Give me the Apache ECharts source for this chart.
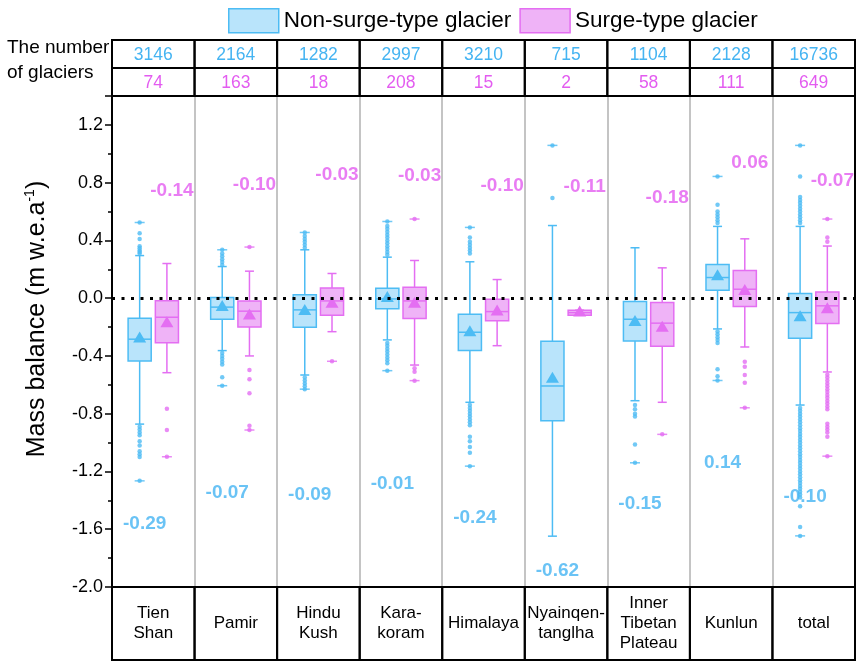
<!DOCTYPE html>
<html>
<head>
<meta charset="utf-8">
<script src="https://cdn.jsdelivr.net/npm/echarts@6/dist/echarts.min.js"></script>
<style>
  html, body { margin: 0; padding: 0; background: #fff; }
  #chart { width: 858px; height: 663px; }
</style>
</head>
<body>
<div id="chart"></div>
<script>
const regions = ["Tien\nShan", "Pamir", "Hindu\nKush", "Kara-\nkoram", "Himalaya",
  "Nyainqen-\ntanglha", "Inner\nTibetan\nPlateau", "Kunlun", "total"];
const nonSurgeCount = [3146, 2164, 1282, 2997, 3210, 715, 1104, 2128, 16736];
const surgeCount = [74, 163, 18, 208, 15, 2, 58, 111, 649];

// [lower whisker, Q1, median, Q3, upper whisker]
const nonSurgeBox = [
  [-0.872, -0.435, -0.284, -0.139, 0.295],
  [-0.363, -0.146, -0.062, 0.004, 0.219],
  [-0.532, -0.201, -0.081, 0.023, 0.335],
  [-0.289, -0.074, -0.005, 0.069, 0.284],
  [-0.721, -0.363, -0.236, -0.111, 0.252],
  [-1.648, -0.849, -0.608, -0.298, 0.503],
  [-0.710, -0.296, -0.146, -0.023, 0.349],
  [-0.213, 0.055, 0.143, 0.233, 0.497],
  [-0.740, -0.277, -0.100, 0.032, 0.497]
];
const surgeBox = [
  [-0.516, -0.308, -0.132, -0.017, 0.240],
  [-0.400, -0.199, -0.090, -0.019, 0.187],
  [-0.232, -0.118, -0.019, 0.071, 0.171],
  [-0.463, -0.141, -0.019, 0.076, 0.261],
  [-0.329, -0.157, -0.093, -0.007, 0.129],
  [-0.118, -0.118, -0.100, -0.083, -0.083],
  [-0.721, -0.333, -0.173, -0.030, 0.210],
  [-0.338, -0.058, 0.062, 0.191, 0.411],
  [-0.511, -0.176, -0.053, 0.042, 0.361]
];
const nonSurgeMean = [-0.275, -0.058, -0.086, 0.004, -0.232, -0.555, -0.162, 0.155, -0.128];
const surgeMean = [-0.170, -0.116, -0.035, -0.035, -0.088, -0.095, -0.201, 0.053, -0.074];

const nonSurgeOutliers = [
  [0.45, 0.41, 0.36, 0.345, 0.33, 0.32, 0.31, -0.89, -0.91, -0.93, -0.95, -0.99, -1.02, -1.06, -1.08, -1.10],
  [0.23, 0.25, 0.27, 0.29, 0.31, -0.38, -0.40, -0.42, -0.44, -0.46, -0.548],
  [0.35, 0.37, 0.39, 0.41, 0.43, -0.55, -0.57, -0.59, -0.61],
  [0.30, 0.32, 0.34, 0.36, 0.38, 0.40, 0.42, 0.44, 0.46, 0.48, 0.50,
   -0.31, -0.33, -0.35, -0.37, -0.39, -0.41, -0.43, -0.45],
  [0.31, 0.33, 0.35, 0.37, 0.39, 0.42, -0.74, -0.76, -0.78, -0.80, -0.82, -0.84, -0.86, -0.88,
   -0.96, -0.99, -1.03, -1.07],
  [0.693],
  [-0.74, -0.77, -0.80, -0.82, -1.013],
  [0.647, 0.60, 0.58, 0.56, 0.54, 0.52, -0.23, -0.25, -0.27, -0.29, -0.31, -0.492, -0.54],
  [0.843, 0.70, 0.68, 0.66, 0.64, 0.62, 0.60, 0.58, 0.56, 0.54, 0.52,
   -0.76, -0.78, -0.80, -0.82, -0.84, -0.86, -0.88, -0.90, -0.92, -0.94, -0.96, -0.98,
   -1.00, -1.02, -1.04, -1.06, -1.08, -1.10, -1.12, -1.14, -1.16, -1.18, -1.20, -1.22,
   -1.24, -1.26, -1.28, -1.30, -1.32, -1.34, -1.36, -1.38, -1.44, -1.584]
];
const surgeOutliers = [
  [-0.766, -0.913],
  [-0.497, -0.562, -0.659, -0.883],
  [],
  [-0.486, -0.509],
  [],
  [],
  [],
  [-0.44, -0.474, -0.532, -0.585],
  [0.42, 0.39, -0.53, -0.55, -0.57, -0.59, -0.61, -0.63, -0.65, -0.67, -0.69, -0.71,
   -0.73, -0.75, -0.77, -0.87, -0.89, -0.91, -0.93, -0.96]
];
// min / max values that lie beyond the whiskers
const nonSurgeExtremes = [
  [0.524, -1.265], [0.335, -0.606], [0.455, -0.63], [0.531, -0.502], [0.49, -1.163],
  [1.058], [-1.14], [0.843, -0.57], [1.058, -1.646]
];
const surgeExtremes = [
  [-1.098], [0.354, -0.913], [-0.437], [0.548, -0.571], [], [], [-0.943], [-0.759], [0.548, -1.094]
];

const nonSurgeMeanText = ["-0.29", "-0.07", "-0.09", "-0.01", "-0.24", "-0.62", "-0.15", "0.14", "-0.10"];
const surgeMeanText = ["-0.14", "-0.10", "-0.03", "-0.03", "-0.10", "-0.11", "-0.18", "0.06", "-0.07"];
const nonSurgeTextY = [-1.565, -1.345, -1.36, -1.283, -1.519, -1.891, -1.426, -1.14, -1.376];
const surgeTextY = [0.746, 0.786, 0.855, 0.848, 0.779, 0.77, 0.698, 0.936, 0.813];

const FONT = "Liberation Sans, Arial, sans-serif";
const BLUE = "#4dbcf4", BLUE_FILL = "#b9e4fb", BLUE_TEXT = "#45b4f2";
const PINK = "#e46ef2", PINK_FILL = "#efb3f7", PINK_TEXT = "#e35cf0";
const OFF = 0.165;   // box offset from category centre (axis units)
const BOX_W = 0.28;  // box width (axis units)

function boxRenderer(offset, stroke, fill) {
  return function (params, api) {
    var x = api.value(0) + 0.5 + offset;
    var left = api.coord([x - BOX_W / 2, 0])[0];
    var right = api.coord([x + BOX_W / 2, 0])[0];
    var cx = api.coord([x, 0])[0];
    var y = function (k) { return api.coord([x, api.value(k)])[1]; };
    var low = y(1), q1 = y(2), med = y(3), q3 = y(4), high = y(5), mean = y(6);
    var line = function (x1, y1, x2, y2) {
      return { type: "line", shape: { x1: x1, y1: y1, x2: x2, y2: y2 }, style: { stroke: stroke, lineWidth: 1.5 } };
    };
    return {
      type: "group",
      children: [
        line(cx, high, cx, q3),
        line(cx, q1, cx, low),
        line(cx - 4.5, high, cx + 4.5, high),
        line(cx - 4.5, low, cx + 4.5, low),
        { type: "rect", shape: { x: left, y: q3, width: right - left, height: q1 - q3 },
          style: { fill: fill, stroke: stroke, lineWidth: 1.5 } },
        line(left, med, right, med),
        { type: "polygon", shape: { points: [[cx, mean - 6.5], [cx - 6.5, mean + 4.5], [cx + 6.5, mean + 4.5]] },
          style: { fill: stroke } }
      ]
    };
  };
}

function points(list, offset) {
  var out = [];
  list.forEach(function (arr, i) {
    arr.forEach(function (v) { out.push([i + 0.5 + offset, v]); });
  });
  return out;
}

var chart = echarts.init(document.getElementById("chart"));

var option = {
  animation: false,
  backgroundColor: "#fff",
  textStyle: { fontFamily: FONT },
  legend: {
    left: 223, top: 3,
    itemWidth: 50, itemHeight: 24, itemGap: 8,
    icon: "rect",
    selectedMode: false,
    textStyle: { fontSize: 22.5, color: "#000", fontFamily: FONT },
    data: [
      { name: "Non-surge-type glacier", itemStyle: { color: BLUE_FILL, borderColor: BLUE, borderWidth: 1.5 } },
      { name: "Surge-type glacier", itemStyle: { color: PINK_FILL, borderColor: PINK, borderWidth: 1.5 } }
    ]
  },
  graphic: [
    { type: "text", left: 7, top: 35,
      style: { text: "The number\nof glaciers", font: "19px " + FONT, fill: "#000", lineHeight: 25 } },
    { type: "text", x: 37, y: 319, rotation: Math.PI / 2,
      style: {
        text: "Mass balance (m w.e.a{sup|-1})", font: "25px " + FONT, fill: "#000",
        align: "center", verticalAlign: "middle", lineHeight: 28,
        rich: { sup: { fontSize: 14, fontFamily: FONT, verticalAlign: "top", lineHeight: 28, padding: [0, 0, 8, 0] } }
      } }
  ],
  grid: [
    { left: 112, right: 3, top: 96, bottom: 76, show: true, borderColor: "#000", borderWidth: 2,
      backgroundColor: "transparent", outerBoundsMode: "none" },
    { left: 112, right: 3, top: 40, height: 56, outerBoundsMode: "none" },
    { left: 112, right: 3, top: 587, height: 73, outerBoundsMode: "none" }
  ],
  xAxis: [
    { type: "value", gridIndex: 0, min: 0, max: 9, interval: 1,
      axisLine: { show: false }, axisTick: { show: false }, axisLabel: { show: false },
      splitLine: { show: true, showMinLine: false, showMaxLine: false, lineStyle: { color: "#c4c4c4", width: 2 } } },
    { type: "value", gridIndex: 1, min: 0, max: 9, show: false },
    { type: "value", gridIndex: 2, min: 0, max: 9, show: false }
  ],
  yAxis: [
    { type: "value", gridIndex: 0, min: -2, max: 1.4, interval: 0.4,
      axisLine: { show: true, lineStyle: { color: "#000", width: 2 } },
      axisTick: { show: true, length: 7, lineStyle: { color: "#000", width: 1.5 } },
      minorTick: { show: true, splitNumber: 2, length: 4, lineStyle: { color: "#000", width: 1.5 } },
      splitLine: { show: false },
      axisLabel: { fontSize: 18, color: "#000", fontFamily: FONT, margin: 9,
        formatter: function (v) { return v > 1.3 ? "" : v.toFixed(1); } } },
    { type: "value", gridIndex: 1, min: 0, max: 2, show: false },
    { type: "value", gridIndex: 2, min: 0, max: 1, show: false }
  ],
  series: [
    {
      name: "Non-surge-type glacier", type: "custom", xAxisIndex: 0, yAxisIndex: 0, z: 3,
      renderItem: boxRenderer(-OFF, BLUE, BLUE_FILL),
      encode: { x: 0, y: [1, 2, 3, 4, 5, 6] },
      itemStyle: { color: BLUE_FILL, borderColor: BLUE },
      data: nonSurgeBox.map(function (b, i) { return [i].concat(b, [nonSurgeMean[i]]); })
    },
    {
      name: "Surge-type glacier", type: "custom", xAxisIndex: 0, yAxisIndex: 0, z: 3,
      renderItem: boxRenderer(OFF, PINK, PINK_FILL),
      encode: { x: 0, y: [1, 2, 3, 4, 5, 6] },
      itemStyle: { color: PINK_FILL, borderColor: PINK },
      data: surgeBox.map(function (b, i) { return [i].concat(b, [surgeMean[i]]); })
    },
    { type: "scatter", symbol: "circle", symbolSize: 4.5, z: 4, itemStyle: { color: BLUE },
      data: points(nonSurgeOutliers, -OFF).concat(points(nonSurgeExtremes, -OFF)) },
    { type: "scatter", symbol: "circle", symbolSize: 4.5, z: 4, itemStyle: { color: PINK },
      data: points(surgeOutliers, OFF).concat(points(surgeExtremes, OFF)) },
    { type: "scatter", symbol: "rect", symbolSize: [10, 1.5], z: 4, itemStyle: { color: BLUE },
      data: points(nonSurgeExtremes, -OFF) },
    { type: "scatter", symbol: "rect", symbolSize: [10, 1.5], z: 4, itemStyle: { color: PINK },
      data: points(surgeExtremes, OFF) },
    { type: "scatter", symbolSize: 0, z: 6, silent: true,
      data: nonSurgeTextY.map(function (v, i) { return [i + 0.5 - OFF, v]; }),
      label: { show: true, position: "inside", offset: [5, 0], fontSize: 19, fontWeight: "bold",
        color: BLUE_TEXT, fontFamily: FONT,
        formatter: function (p) { return nonSurgeMeanText[p.dataIndex]; } } },
    { type: "scatter", symbolSize: 0, z: 6, silent: true,
      data: surgeTextY.map(function (v, i) { return [i + 0.5 + OFF, v]; }),
      label: { show: true, position: "inside", offset: [5, 0], fontSize: 19, fontWeight: "bold",
        color: PINK_TEXT, fontFamily: FONT,
        formatter: function (p) { return surgeMeanText[p.dataIndex]; } } },
    { type: "line", data: [], z: 5,
      markLine: { silent: true, symbol: "none", label: { show: false },
        lineStyle: { color: "#000", type: [3, 6.5], width: 3 },
        data: [{ yAxis: 0 }] } },
    {
      type: "custom", xAxisIndex: 1, yAxisIndex: 1, silent: true,
      data: nonSurgeCount.map(function (n, i) { return [i, n, surgeCount[i]]; }),
      renderItem: function (params, api) {
        var i = api.value(0);
        var p0 = api.coord([i, 2]), p1 = api.coord([i + 1, 1]), p2 = api.coord([i + 1, 0]);
        var cx = (p0[0] + p1[0]) / 2;
        var border = { fill: "none", stroke: "#000", lineWidth: 2 };
        return { type: "group", children: [
          { type: "rect", shape: { x: p0[0], y: p0[1], width: p1[0] - p0[0], height: p1[1] - p0[1] }, style: border },
          { type: "rect", shape: { x: p0[0], y: p1[1], width: p1[0] - p0[0], height: p2[1] - p1[1] }, style: border },
          { type: "text", style: { text: String(api.value(1)), x: cx, y: (p0[1] + p1[1]) / 2 + 1,
            align: "center", verticalAlign: "middle", font: "17.5px " + FONT, fill: BLUE_TEXT } },
          { type: "text", style: { text: String(api.value(2)), x: cx, y: (p1[1] + p2[1]) / 2 + 1,
            align: "center", verticalAlign: "middle", font: "17.5px " + FONT, fill: PINK_TEXT } }
        ] };
      }
    },
    {
      type: "custom", xAxisIndex: 2, yAxisIndex: 2, silent: true,
      data: regions.map(function (r, i) { return [i]; }),
      renderItem: function (params, api) {
        var i = api.value(0);
        var p0 = api.coord([i, 1]), p1 = api.coord([i + 1, 0]);
        return { type: "group", children: [
          { type: "rect", shape: { x: p0[0], y: p0[1], width: p1[0] - p0[0], height: p1[1] - p0[1] },
            style: { fill: "none", stroke: "#000", lineWidth: 2 } },
          { type: "text", style: { text: regions[params.dataIndex], x: (p0[0] + p1[0]) / 2, y: (p0[1] + p1[1]) / 2,
            align: "center", verticalAlign: "middle", font: "17px " + FONT, fill: "#000", lineHeight: 20 } }
        ] };
      }
    }
  ]
};

chart.setOption(option);
</script>
</body>
</html>
